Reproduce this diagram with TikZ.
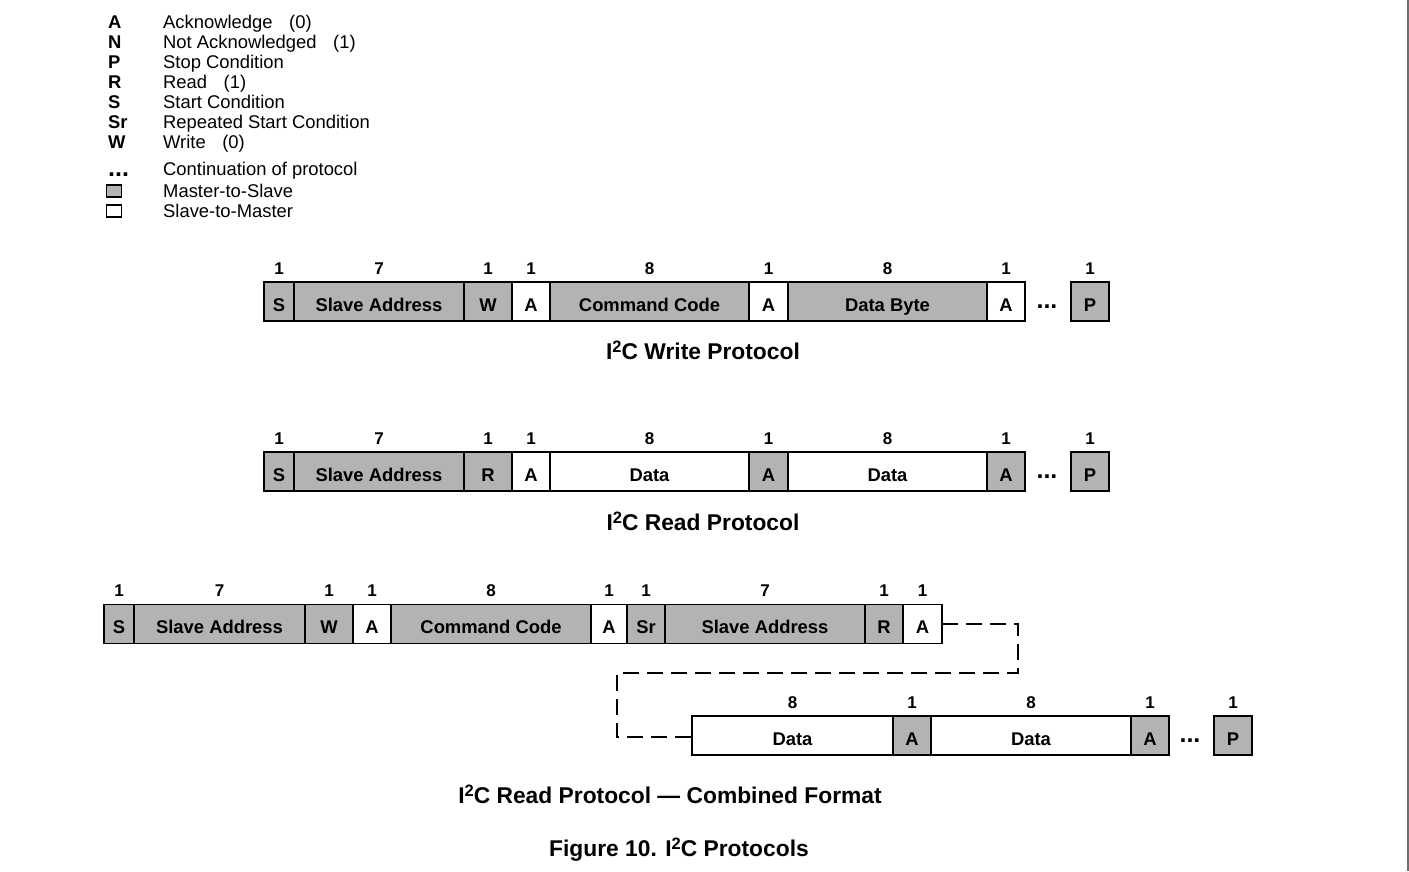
\documentclass[tikz,border=0pt]{standalone}
\usepackage{fontspec}
\setmainfont{Liberation Sans}
\usetikzlibrary{calc}
\definecolor{boxgray}{RGB}{179,179,179}
\definecolor{edgegray}{RGB}{110,110,110}
\newcommand\IIC{I\raisebox{0.30em}{\fontsize{16.5}{16}\selectfont 2}C}
\newcommand\cell[7]{%
  \node[#1, minimum width={(#4-#3)*1pt}, anchor=west] (#2) at (#3,#5) {#6};
  \node[bitnum] (#2n) at ($(#2.north)+(0,-13.5)$) {#7};}
\begin{document}
\begin{tikzpicture}[x=1pt,y=-1pt,
  cellbase/.style={draw=black, line width=1.8pt, minimum height=39pt, inner sep=0pt, outer sep=0pt,
    text height=19pt, text depth=0pt,
    font=\fontsize{18.4}{22}\selectfont\bfseries},
  m2s/.style={cellbase, fill=boxgray},
  s2m/.style={cellbase, fill=white},
  bitnum/.style={inner sep=0pt, font=\fontsize{17}{20}\selectfont\bfseries},
  legl/.style={anchor=base west, inner sep=0pt, font=\fontsize{18.4}{22}\selectfont\bfseries},
  legt/.style={anchor=base west, inner sep=0pt, font=\fontsize{18.4}{22}\selectfont},
  dotsn/.style={anchor=base, inner sep=0pt, font=\fontsize{25}{28}\selectfont\bfseries},
  ttl/.style={anchor=base, inner sep=0pt, font=\fontsize{22.8}{27}\selectfont\bfseries},
  legsq/.style={draw=black, line width=1.8pt, minimum width=15pt, minimum height=12pt, inner sep=0pt},
  cont/.style={draw=black, line width=1.8pt, dash pattern=on 16pt off 8pt}
]
\useasboundingbox (0,0) rectangle (1409,871);
\fill[white] (0,0) rectangle (1409,871);
\draw[edgegray, line width=2pt] (1407.5,0) -- (1407.5,871);

% legend
\node[legl] (lA) at (108,28) {A};   \node[legt] (tA) at (163,28) {Acknowledge\hspace{0.9em}(0)};
\node[legl] (lN) at (108,48) {N};   \node[legt] (tN) at (163,48) {Not Acknowledged\hspace{0.9em}(1)};
\node[legl] (lP) at (108,68) {P};   \node[legt] (tP) at (163,68) {Stop Condition};
\node[legl] (lR) at (108,88) {R};   \node[legt] (tR) at (163,88) {Read\hspace{0.9em}(1)};
\node[legl] (lS) at (108,108) {S};  \node[legt] (tS) at (163,108) {Start Condition};
\node[legl] (lSr) at (108,128) {Sr}; \node[legt] (tSr) at (163,128) {Repeated Start Condition};
\node[legl] (lW) at (108,148) {W};  \node[legt] (tW) at (163,148) {Write\hspace{0.9em}(0)};
\node[dotsn, anchor=base west] (lD) at (108,176) {...}; \node[legt] (tD) at (163,175) {Continuation of protocol};
\node[legsq, fill=boxgray] (sqM) at (114,191) {}; \node[legt] (tM) at (163,197) {Master-to-Slave};
\node[legsq, fill=white] (sqS) at (114,211) {};   \node[legt] (tSl) at (163,217) {Slave-to-Master};

% Write protocol
\cell{m2s}{wS}{264}{294}{301.5}{S}{1}
\cell{m2s}{wSA}{294}{464}{301.5}{Slave Address}{7}
\cell{m2s}{wW}{464}{512}{301.5}{W}{1}
\cell{s2m}{wA1}{512}{550}{301.5}{A}{1}
\cell{m2s}{wCC}{550}{749}{301.5}{Command Code}{8}
\cell{s2m}{wA2}{749}{788}{301.5}{A}{1}
\cell{m2s}{wDB}{788}{987}{301.5}{Data Byte}{8}
\cell{s2m}{wA3}{987}{1025}{301.5}{A}{1}
\node[dotsn] (wdots) at (1047,308) {...};
\cell{m2s}{wP}{1071}{1109}{301.5}{P}{1}
\node[ttl] (wt) at (703,359) {\IIC\ Write Protocol};

% Read protocol
\cell{m2s}{rS}{264}{294}{471.5}{S}{1}
\cell{m2s}{rSA}{294}{464}{471.5}{Slave Address}{7}
\cell{m2s}{rR}{464}{512}{471.5}{R}{1}
\cell{s2m}{rA1}{512}{550}{471.5}{A}{1}
\cell{s2m}{rD1}{550}{749}{471.5}{Data}{8}
\cell{m2s}{rA2}{749}{788}{471.5}{A}{1}
\cell{s2m}{rD2}{788}{987}{471.5}{Data}{8}
\cell{m2s}{rA3}{987}{1025}{471.5}{A}{1}
\node[dotsn] (rdots) at (1047,478) {...};
\cell{m2s}{rP}{1071}{1109}{471.5}{P}{1}
\node[ttl] (rt) at (703,530) {\IIC\ Read Protocol};

% Combined format, first line
\cell{m2s}{cS}{104}{134}{624}{S}{1}
\cell{m2s}{cSA}{134}{305}{624}{Slave Address}{7}
\cell{m2s}{cW}{305}{353}{624}{W}{1}
\cell{s2m}{cA1}{353}{391}{624}{A}{1}
\cell{m2s}{cCC}{391}{591}{624}{Command Code}{8}
\cell{s2m}{cA2}{591}{627}{624}{A}{1}
\cell{m2s}{cSr}{627}{665}{624}{Sr}{1}
\cell{m2s}{cSA2}{665}{865}{624}{Slave Address}{7}
\cell{m2s}{cR}{865}{903}{624}{R}{1}
\cell{s2m}{cA3}{903}{942}{624}{A}{1}

% Combined format, second line
\cell{s2m}{dD1}{692}{893}{735.5}{Data}{8}
\cell{m2s}{dA1}{893}{931}{735.5}{A}{1}
\cell{s2m}{dD2}{931}{1131}{735.5}{Data}{8}
\cell{m2s}{dA2}{1131}{1169}{735.5}{A}{1}
\node[dotsn] (ddots) at (1190,742) {...};
\cell{m2s}{dP}{1214}{1252}{735.5}{P}{1}

% continuation connector
\coordinate (k1) at (1018,624);
\coordinate (k2) at (1018,673);
\coordinate (k3) at (617,673);
\coordinate (k4) at (617,737);
\draw[cont] (cA3.east) -- (k1) -- (k2) -- (k3) -- (k4) -- (dD1.west |- k4);

\node[ttl] (ct) at (670,803) {\IIC\ Read Protocol --- Combined Format};
\node[ttl] (ft) at (679,856) {Figure 10. \IIC\ Protocols};
\end{tikzpicture}
\end{document}
